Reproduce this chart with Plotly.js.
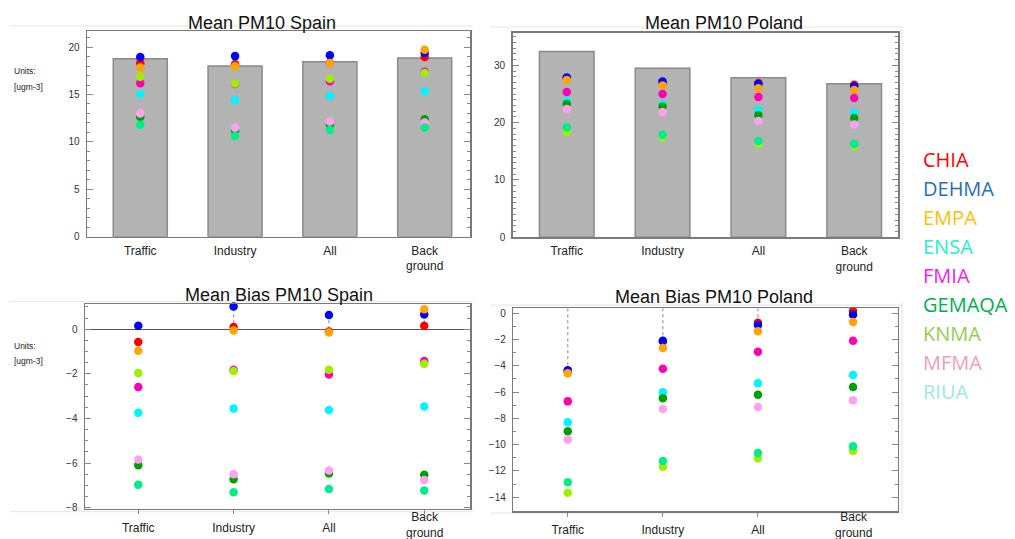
<!DOCTYPE html>
<html><head><meta charset="utf-8">
<script src="https://cdn.plot.ly/plotly-3.0.1.min.js"></script>
<style>html,body{margin:0;padding:0;background:#fff;}#chart{width:1015px;height:539px;}</style>
</head><body><div id="chart"></div>
<script>
// ---------- data ----------
const categories = ["Traffic", "Industry", "All", "Back<br>ground"];
const models = ["CHIA", "DEHMA", "EMPA", "ENSA", "FMIA", "GEMAQA", "KNMA", "MFMA", "RIUA"];
const markerColors = ["#ff0000", "#0000ff", "#ffa500", "#00f5ff", "#ff00b4", "#00a000", "#9cf000", "#ffa0f0", "#00ee8a"];
const legendColors = ["#ff0000", "#1f6fc0", "#ffc000", "#22f0cc", "#ee22ee", "#00b050", "#92d050", "#f0a0b4", "#9ee8dc"];

// observed means (grey bars)
const spainObs = [18.78, 18.0, 18.46, 18.84];
const polandObs = [32.4, 29.5, 27.85, 26.8];

// model means, one row per model (order of `models`), columns = categories
const spainMean = [
  [18.3, 18.18, 18.35, 18.95],
  [18.95, 19.05, 19.13, 19.37],
  [17.86, 17.97, 18.32, 19.72],
  [15.05, 14.42, 14.84, 15.34],
  [16.2, 16.1, 16.4, 17.4],
  [12.63, 11.2, 11.8, 12.39],
  [16.88, 16.15, 16.67, 17.27],
  [13.0, 11.5, 12.15, 12.04],
  [11.8, 10.63, 11.26, 11.52]
];
const polandMean = [
  [27.75, 27.05, 26.93, 26.63],
  [27.9, 27.2, 26.75, 26.35],
  [27.45, 26.5, 26.0, 25.7],
  [23.84, 23.26, 22.2, 21.75],
  [25.36, 25.0, 24.5, 24.3],
  [23.26, 22.8, 21.3, 20.8],
  [18.38, 17.5, 16.3, 15.9],
  [22.4, 21.87, 20.3, 19.7],
  [19.2, 17.9, 16.8, 16.3]
];
const spainBias = [
  [-0.57, 0.1, -0.1, 0.16],
  [0.16, 1.02, 0.64, 0.66],
  [-0.96, -0.06, -0.15, 0.9],
  [-3.75, -3.56, -3.62, -3.47],
  [-2.59, -1.82, -2.03, -1.42],
  [-6.1, -6.73, -6.47, -6.53],
  [-1.96, -1.87, -1.82, -1.55],
  [-5.84, -6.5, -6.34, -6.76],
  [-6.97, -7.31, -7.17, -7.23]
];
const polandBias = [
  [-4.4, -2.15, -0.73, 0.16],
  [-4.35, -2.1, -0.9, -0.12],
  [-4.58, -2.65, -1.38, -0.68],
  [-8.3, -6.02, -5.34, -4.71],
  [-6.71, -4.23, -2.94, -2.1],
  [-8.99, -6.48, -6.2, -5.62],
  [-13.66, -11.68, -11.04, -10.49],
  [-9.62, -7.29, -7.14, -6.63],
  [-12.87, -11.25, -10.64, -10.13]
];
const titles = ["Mean PM10 Spain", "Mean PM10 Poland", "Mean Bias PM10 Spain", "Mean Bias PM10 Poland"];

// ---------- build ----------
const W = 1015, H = 539;
const xi = categories.map((c, i) => i);
const px = (a, b) => [a / W, b / W];
const py = (top, bottom) => [1 - bottom / H, 1 - top / H];

const panels = [
  {ax: "", data: spainMean, obs: spainObs, xd: px(87, 470), yd: py(31, 236.7), xr: [-0.562, 3.478], yr: [0, 21.7], dt: 5, mdt: 1},
  {ax: "2", data: polandMean, obs: polandObs, xd: px(512.7, 898.3), yd: py(32.7, 237.3), xr: [-0.564, 3.46], yr: [0, 35.7], dt: 10, mdt: 1},
  {ax: "3", data: spainBias, xd: px(85, 470), yd: py(304.3, 508.7), xr: [-0.559, 3.48], yr: [-8.05, 1.12], dt: 2, mdt: 0.5, stem: "zero"},
  {ax: "4", data: polandBias, xd: px(513.3, 897.7), yd: py(308.3, 511), xr: [-0.573, 3.47], yr: [-15.05, 0.37], dt: 2, mdt: 1, stem: "top"}
];

const traces = [];
const layout = {
  width: W, height: H, margin: {l: 0, r: 0, t: 0, b: 0},
  paper_bgcolor: "#fff", plot_bgcolor: "#fff", showlegend: false,
  font: {family: "Liberation Sans, Arial, sans-serif", color: "#222"},
  annotations: [], shapes: []
};

panels.forEach((p, k) => {
  const xa = "x" + p.ax, ya = "y" + p.ax;
  if (p.obs) {
    traces.push({type: "bar", x: xi, y: p.obs, width: 0.57, xaxis: xa, yaxis: ya,
      marker: {color: "#b3b3b3", line: {color: "#8a8a8a", width: 1.5}}, hoverinfo: "skip"});
  }
  if (p.stem) {
    xi.forEach(i => {
      const top = Math.max(...p.data.map(r => r[i]));
      const start = p.stem === "zero" ? 0 : p.yr[1];
      if (top < start || (p.stem === "zero" && top > 0)) {
        traces.push({type: "scatter", mode: "lines", x: [i, i], y: [start, top], xaxis: xa, yaxis: ya,
          line: {color: "#999", width: 1.2, dash: "dot"}, hoverinfo: "skip"});
      }
    });
  }
  p.data.forEach((row, m) => {
    traces.push({type: "scatter", mode: "markers", name: models[m], x: xi, y: row, xaxis: xa, yaxis: ya,
      marker: {color: markerColors[m], size: 8.5}, cliponaxis: false});
  });
  const bottomRow = k >= 2;
  // bottom row: two-line label placed separately (raised so it stays inside the picture)
  const ticktext = bottomRow ? categories.map(c => c.includes("<br>") ? "" : c) : categories;
  layout["xaxis" + p.ax] = {
    domain: p.xd, range: p.xr, anchor: ya, tickvals: xi, ticktext: ticktext,
    showline: true, linecolor: "#7a7a7a", linewidth: 1.5, mirror: true, showgrid: false, zeroline: false,
    ticks: bottomRow ? "outside" : "", ticklen: 4, tickcolor: "#888",
    tickfont: {size: 12, color: "#222"}, ticklabelstandoff: bottomRow ? 3 : 2, fixedrange: true
  };
  if (bottomRow) {
    categories.forEach((c, i) => {
      if (c.includes("<br>")) layout.annotations.push({
        text: c, xref: xa, yref: "paper", x: i, y: 1 - 525 / H, xanchor: "center", yanchor: "middle",
        showarrow: false, font: {size: 12, color: "#222"}
      });
    });
  }
  layout["yaxis" + p.ax] = {
    domain: p.yd, range: p.yr, anchor: xa, dtick: p.dt, tick0: 0,
    showline: true, linecolor: "#7a7a7a", linewidth: 1.5, mirror: "allticks", showgrid: false,
    zeroline: k === 2, zerolinecolor: "#555", zerolinewidth: 1.2,
    ticks: "inside", ticklen: 6, tickcolor: "#888", tickwidth: 1,
    minor: {ticks: "inside", ticklen: 3, dtick: p.mdt, tick0: 0, tickcolor: "#888", showgrid: false},
    tickfont: {size: 10, color: "#333"}, ticklabelstandoff: 4, fixedrange: true
  };
});

// panel titles
const titlePos = [[262, 22.7], [723.8, 23.3], [278.8, 295], [714, 297.3]];
titles.forEach((t, k) => layout.annotations.push({
  text: t, xref: "paper", yref: "paper", x: titlePos[k][0] / W, y: 1 - titlePos[k][1] / H,
  xanchor: "center", yanchor: "middle", showarrow: false, font: {size: 18, color: "#111"}
}));
// units labels
[[71, 87.3], [346.3, 360.7]].forEach(([a, b]) => {
  layout.annotations.push({text: "Units:", xref: "paper", yref: "paper", x: 12 / W, y: 1 - a / H,
    xanchor: "left", yanchor: "middle", showarrow: false, font: {size: 8.5, color: "#222"}});
  layout.annotations.push({text: "[ugm-3]", xref: "paper", yref: "paper", x: 12 / W, y: 1 - b / H,
    xanchor: "left", yanchor: "middle", showarrow: false, font: {size: 8.5, color: "#222"}});
});
// colour-key text legend (evenly spaced rows)
models.forEach((m, i) => layout.annotations.push({
  text: m, xref: "paper", yref: "paper", x: 922 / W, y: 1 - (159.5 + i * 29.05) / H, xanchor: "left", yanchor: "middle",
  showarrow: false, borderpad: 0, font: {size: 20, color: legendColors[i], family: "Open Sans, Noto Sans, sans-serif"}
}));
// faint picture borders
const faint = {color: "#e4e4e4", width: 1};
[[10, 26, 473, 26], [490, 27, 902, 27], [902, 27, 902, 240], [10, 301.7, 473, 301.7], [10, 511.7, 473, 511.7],
 [490, 305, 902, 305], [490, 513, 902, 513], [902, 303, 902, 513]].forEach(s => layout.shapes.push({
  type: "line", xref: "paper", yref: "paper", x0: s[0] / W, y0: 1 - s[1] / H, x1: s[2] / W, y1: 1 - s[3] / H,
  line: faint, layer: "below"
}));

Plotly.newPlot("chart", traces, layout, {staticPlot: true, displayModeBar: false});
</script></body></html>
